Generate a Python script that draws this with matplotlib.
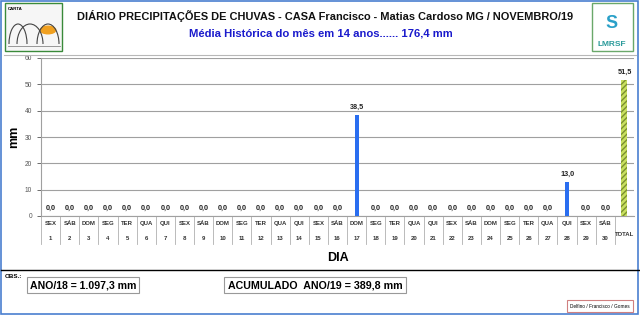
import matplotlib
matplotlib.use("Agg")
import matplotlib.pyplot as plt
from matplotlib.patches import Rectangle, Arc, Circle
from matplotlib.lines import Line2D
import matplotlib.transforms as mtransforms

plt.rcParams["font.family"] = ["Liberation Sans", "DejaVu Sans"]

# data
dias = list(range(1, 31))
semana = ["SEX", "SÁB", "DOM", "SEG", "TER", "QUA", "QUI"]
nomes_dias = [semana[(d - 1) % 7] for d in dias]
chuva = [0.0] * 30
chuva[16] = 38.5
chuva[27] = 13.0
total = 51.5

titulo = "DIÁRIO PRECIPITAÇÕES DE CHUVAS - CASA Francisco - Matias Cardoso MG / NOVEMBRO/19"
subtitulo = "Média Histórica do mês em 14 anos...... 176,4 mm"
obs_ano18 = "ANO/18 = 1.097,3 mm"
obs_acum = "ACUMULADO  ANO/19 = 389,8 mm"
autores = "Delfino / Francisco / Gomes"

W, H = 640, 316
fig = plt.figure(figsize=(W / 100, H / 100), dpi=100)
fig.patch.set_facecolor("white")


def fx(px):
    return px / W


def fy(py):
    return 1 - py / H


ax = fig.add_axes([fx(41), fy(216), fx(634) - fx(41), fy(58) - fy(216)])
n = len(dias) + 1
xs = list(range(n))
ax.bar(xs[:30], chuva, width=0.22, color="#2a6ef0", zorder=3)
ax.bar(xs[30], total, width=0.32, color="#c8e060", edgecolor="#7a8f30",
       hatch="//////", linewidth=0, zorder=3)
for x, v in zip(xs, chuva + [total]):
    ax.text(x, v + 1.6, f"{v:.1f}".replace(".", ","), ha="center", va="bottom",
            fontsize=5.2, fontweight="bold", color="#222222")

ax.set_xlim(-0.5, n - 0.5)
ax.set_ylim(0, 60)
ax.set_yticks(range(0, 61, 10))
ax.tick_params(axis="y", labelsize=4.8, colors="#555555", length=3, width=0.6)
ax.set_xticks([])
ax.grid(axis="y", color="#a0a0a0", linewidth=0.8, zorder=0)
for s in ["top", "right"]:
    ax.spines[s].set_visible(False)
ax.spines["left"].set_color("#a0a0a0")
ax.spines["bottom"].set_color("#a0a0a0")
fig.text(fx(14), fy(137), "mm", rotation=90, ha="center", va="center",
         fontsize=9, fontweight="bold")

# category table under the axis
tr = mtransforms.blended_transform_factory(ax.transData, ax.transAxes)
for i in range(n):
    x = i - 0.5
    ax.add_line(Line2D([x, x], [0, -0.175], transform=tr, color="#b0b0b0",
                       linewidth=0.6, clip_on=False))
for i, d in enumerate(dias):
    ax.text(i, -0.05, nomes_dias[i], transform=tr, ha="center", va="center",
            fontsize=4.3, fontweight="bold", color="#333333")
    ax.text(i, -0.14, str(d), transform=tr, ha="center", va="center",
            fontsize=4.3, fontweight="bold", color="#333333")
ax.text(30, -0.12, "TOTAL", transform=tr, ha="center", va="center",
        fontsize=4.3, fontweight="bold", color="#333333")
ax.text(0.5, -0.268, "DIA", transform=ax.transAxes, ha="center", va="center",
        fontsize=9, fontweight="bold")

# header text
fig.text(fx(325), fy(16), titulo, ha="center", va="center", fontsize=7.95,
         fontweight="bold", color="#111111")
fig.text(fx(321), fy(33), subtitulo, ha="center", va="center", fontsize=8.1,
         fontweight="bold", color="#1a1acc")

# frame lines
fig.add_artist(Rectangle((fx(1), fy(314)), fx(637), 313 / H, transform=fig.transFigure,
                         fill=False, edgecolor="#4a7fd0", linewidth=1.2))
fig.add_artist(Line2D([fx(4), fx(636)], [fy(55), fy(55)], transform=fig.transFigure,
                      color="#b8b8b8", linewidth=0.8))
fig.add_artist(Line2D([fx(1), fx(639)], [fy(270), fy(270)], transform=fig.transFigure,
                      color="black", linewidth=1.0))

# logos
fig.add_artist(Rectangle((fx(5), fy(51)), fx(57), 48 / H, transform=fig.transFigure,
                         fill=True, facecolor="#f6f6f6", edgecolor="#3a8a3a", linewidth=1))
fig.text(fx(8), fy(9), "CARTA", fontsize=3.2, fontweight="bold", va="center")
fig.add_artist(Circle((fx(48), fy(30)), 0.012, transform=fig.transFigure,
                      color="#f0a020"))
for cx, w in [(30, 26), (48, 22), (18, 18)]:
    fig.add_artist(Arc((fx(cx), fy(44)), fx(w), 40 / H, theta1=0, theta2=180,
                       transform=fig.transFigure, color="#444444", linewidth=0.8))
fig.add_artist(Line2D([fx(8), fx(60)], [fy(46), fy(46)], transform=fig.transFigure,
                      color="#888888", linewidth=0.6))
fig.add_artist(Rectangle((fx(592), fy(51)), fx(41), 48 / H, transform=fig.transFigure,
                         fill=True, facecolor="white", edgecolor="#6aa86a", linewidth=1))
fig.text(fx(612), fy(23), "S", fontsize=13, fontweight="bold", color="#2aa0c8",
         ha="center", va="center")
fig.text(fx(612), fy(44), "LMRSF", fontsize=6, fontweight="bold", color="#2a9a9a",
         ha="center", va="center")

# observation area
fig.text(fx(5), fy(276), "OBS.:", fontsize=4.5, fontweight="bold", va="center")
fig.text(fx(83), fy(285), obs_ano18, fontsize=7.6, fontweight="bold", ha="center",
         va="center", bbox=dict(boxstyle="square,pad=0.3", facecolor="white",
                                edgecolor="#999999", linewidth=0.8))
fig.text(fx(315), fy(285), obs_acum, fontsize=7.7, fontweight="bold", ha="center",
         va="center", bbox=dict(boxstyle="square,pad=0.3", facecolor="white",
                                edgecolor="#999999", linewidth=0.8))
fig.text(fx(600), fy(306), autores, fontsize=3.4, ha="center", va="center",
         bbox=dict(boxstyle="square,pad=0.7", facecolor="white",
                   edgecolor="#d08080", linewidth=0.8))

fig.savefig("out.png", dpi=100)
